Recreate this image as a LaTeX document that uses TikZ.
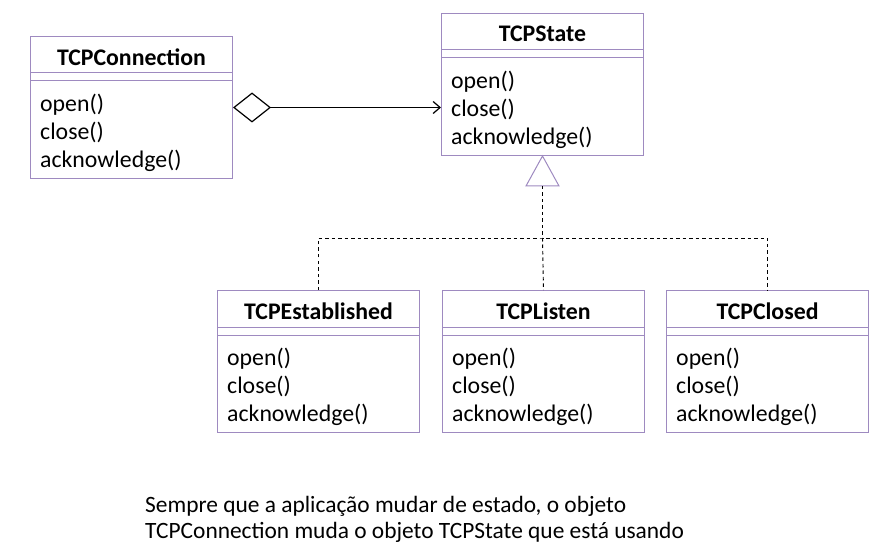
\documentclass[tikz,border=0pt]{standalone}
\usepackage{fontspec}
\setmainfont{Carlito}
\usepackage{tikz}
\usetikzlibrary{calc,arrows.meta}
\definecolor{umlpurple}{RGB}{158,138,192}
\tikzstyle{classbox} = [draw=umlpurple,line width=1pt,minimum width=202pt,minimum height=142pt,inner sep=0,anchor=north west]
\tikzstyle{classline} = [draw=umlpurple,line width=1pt]
\tikzstyle{classname} = [font=\fontsize{23.8}{28}\selectfont\bfseries,inner sep=0]
\tikzstyle{classops} = [font=\fontsize{23.8}{28}\selectfont,align=left,inner sep=0,anchor=north west]
\tikzstyle{realize} = [draw,line width=0.9pt,dash pattern=on 3.5pt off 3pt]
% one UML class: id, top left x, top left y, title
\newcommand{\umlclass}[4]{%
  \node[classbox] (#1) at (#2,#3) {};
  \node[classname] (#1-name) at ($(#1.north)+(0,21)$) {#4};
  \draw[classline] ($(#1.north west)+(0,37)$) -- ($(#1.north east)+(0,37)$);
  \draw[classline] ($(#1.north west)+(0,45)$) -- ($(#1.north east)+(0,45)$);
  \node[classops] (#1-ops) at ($(#1.north west)+(10,57.5)$) {open()\\close()\\acknowledge()};
}

\begin{document}
\begin{tikzpicture}[x=1pt,y=-1pt]
    \useasboundingbox (0,0) rectangle (880,553);

    \umlclass{conn}{30}{36}{TCPConnection}
    \umlclass{state}{441}{13}{TCPState}
    \umlclass{est}{217}{290}{TCPEstablished}
    \umlclass{listen}{442}{290}{TCPListen}
    \umlclass{closed}{666}{290}{TCPClosed}

    % aggregation
    \draw[line width=1pt,{Diamond[open,fill=white,length=38pt,width=30pt,line width=1.2pt]}-{Straight Barb[length=7pt,width=12pt,line width=1.2pt]}]
        (conn.east) -- (conn.east -| state.west);

    % generalization
    \draw[draw=umlpurple,line width=1pt] (state.south) -- ++(-16.5,30) -- ++(33,0) -- cycle;
    \coordinate (tribase) at ($(state.south)+(0,30)$);
    \coordinate (split) at ($(tribase)+(0,52)$);
    \draw[realize] (tribase) -- (split);
    \draw[realize] (est.north) |- (split) -| (closed.north);
    \draw[realize] (split) -- (listen.north);

    \node[font=\fontsize{23.4}{25.5}\selectfont,align=left,anchor=north west,inner sep=0] (note) at (145,496.5)
        {Sempre que a aplicação mudar de estado, o objeto\\TCPConnection muda o objeto TCPState que está usando};

\end{tikzpicture}
\end{document}
